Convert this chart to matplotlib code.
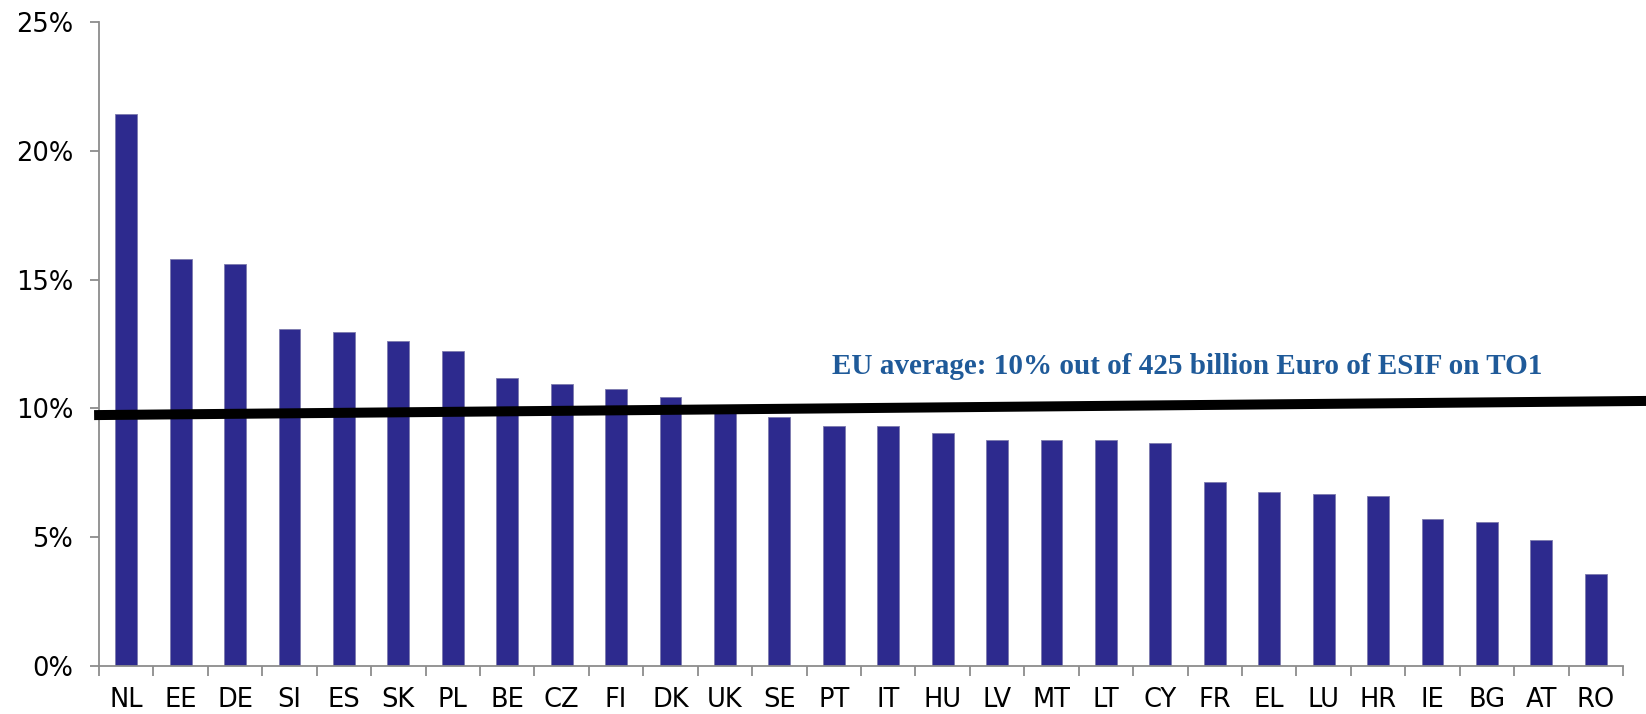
import matplotlib
matplotlib.use("Agg")
import matplotlib.pyplot as plt
import numpy as np
from matplotlib.ticker import FixedLocator

countries = ["NL", "EE", "DE", "SI", "ES", "SK", "PL", "BE", "CZ", "FI", "DK", "UK", "SE", "PT",
             "IT", "HU", "LV", "MT", "LT", "CY", "FR", "EL", "LU", "HR", "IE", "BG", "AT", "RO"]
shares = [21.42, 15.80, 15.61, 13.07, 12.97, 12.63, 12.22, 11.18, 10.93, 10.77, 10.43, 9.90, 9.68, 9.33,
          9.33, 9.03, 8.79, 8.79, 8.78, 8.64, 7.13, 6.74, 6.69, 6.59, 5.69, 5.60, 4.90, 3.56]
avg_line_x = [-0.59, 27.95]
avg_line_y = [9.74, 10.29]
yticks = [0, 5, 10, 15, 20, 25]
ytick_labels = ["0%", "5%", "10%", "15%", "20%", "25%"]
avg_text = "EU average: 10% out of 425 billion Euro of ESIF on TO1"

W, H = 1646, 714
fig = plt.figure(figsize=(W / 100, H / 100), dpi=100)
ax = fig.add_axes([99 / W, 1 - 666 / H, (1623 - 99) / W, (666 - 22) / H])

x = np.arange(len(countries))
ax.bar(x, shares, width=0.40, color="#2D2A8E", edgecolor="#7c7aae", linewidth=0.6, zorder=2)

ax.set_xlim(-0.5, len(countries) - 0.5)
ax.set_ylim(0, 25)

for s in ["top", "right"]:
    ax.spines[s].set_visible(False)
for s in ["left", "bottom"]:
    ax.spines[s].set_color("#8c8c8c")
    ax.spines[s].set_linewidth(1.3)

ax.set_yticks(yticks)
ax.set_yticklabels(ytick_labels)
ax.tick_params(axis="y", direction="out", length=6.5, width=1.3, color="#8c8c8c",
               labelsize=18.5, pad=12, labelcolor="black")

ax.set_xticks(x)
ax.set_xticklabels(countries)
ax.tick_params(axis="x", which="major", length=0, labelsize=18.5, pad=15, labelcolor="black")
ax.xaxis.set_minor_locator(FixedLocator(np.arange(-0.5, len(countries), 1.0)))
ax.tick_params(axis="x", which="minor", direction="out", length=7, width=1.3, color="#8c8c8c")

ax.plot(avg_line_x, avg_line_y, color="black", linewidth=7.2, solid_capstyle="butt",
        clip_on=False, zorder=3)

fig.text(832 / W, 1 - 374 / H, avg_text, ha="left", va="baseline",
         fontsize=21, fontweight="bold", family=["Liberation Serif", "DejaVu Serif"],
         color="#1F5A99")

fig.savefig("out.png", dpi=100)
